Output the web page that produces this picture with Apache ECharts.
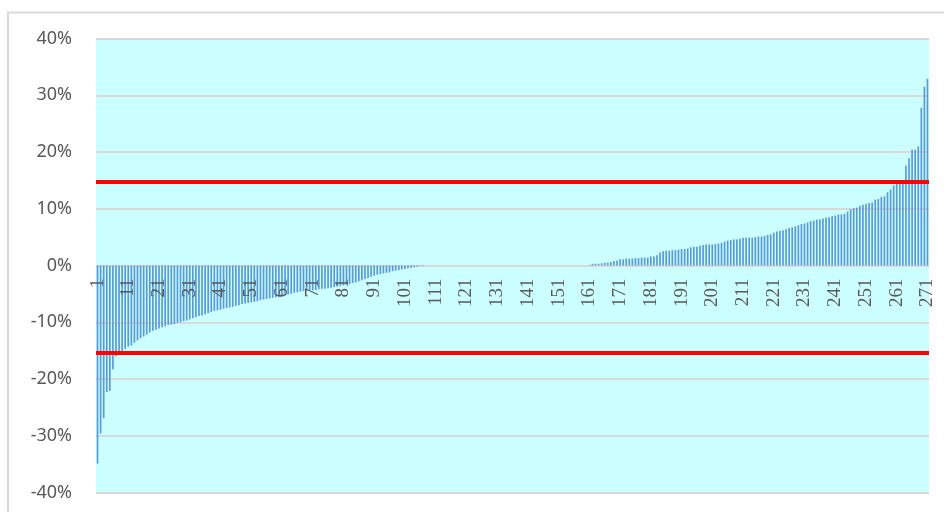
<!DOCTYPE html>
<html>
<head>
<meta charset="utf-8">
<script src="https://cdn.jsdelivr.net/npm/echarts@6/dist/echarts.min.js"></script>
<style>
html,body{margin:0;padding:0;background:#fff;}
#chart{width:944px;height:512px;}
</style>
</head>
<body>
<div id="chart"></div>
<script>
// Sorted percentage changes (271 items)
const changePct = [
  -34.9,-29.6,-26.9,-22.3,-22.1,-18.3,-16.0,-15.7,-15.4,-14.7,
  -14.3,-14.1,-13.6,-13.2,-12.8,-12.5,-12.2,-11.8,-11.5,-11.3,
  -11.1,-10.9,-10.7,-10.5,-10.4,-10.3,-10.1,-10.0,-9.8,-9.7,
  -9.5,-9.3,-9.1,-8.9,-8.8,-8.6,-8.4,-8.2,-8.0,-7.9,
  -7.8,-7.6,-7.5,-7.4,-7.3,-7.1,-7.0,-6.8,-6.7,-6.6,
  -6.5,-6.4,-6.3,-6.1,-6.0,-5.9,-5.8,-5.7,-5.6,-5.5,
  -5.4,-5.2,-5.1,-5.0,-4.8,-4.7,-4.6,-4.5,-4.5,-4.4,
  -4.4,-4.3,-4.2,-4.1,-4.1,-4.0,-3.9,-3.8,-3.7,-3.6,
  -3.5,-3.4,-3.3,-3.1,-3.0,-2.8,-2.6,-2.4,-2.2,-2.0,
  -1.8,-1.6,-1.5,-1.4,-1.3,-1.2,-1.0,-0.9,-0.8,-0.7,
  -0.6,-0.5,-0.4,-0.3,-0.2,-0.1,-0.1,0,0,0,
  0,0,0,0,0,0,0,0,0,0,
  0,0,0,0,0,0,0,0,0,0,
  0,0,0,0,0,0,0,0,0,0,
  0,0,0,0,0,0,0,0,0,0,
  0,0,0,0,0,0,0,0,0,0,
  0.1,0.3,0.3,0.3,0.4,0.5,0.5,0.6,0.8,0.9,
  1.1,1.1,1.2,1.2,1.2,1.3,1.3,1.4,1.4,1.4,
  1.6,1.6,1.8,2.3,2.5,2.6,2.6,2.7,2.7,2.8,
  2.9,2.9,3.0,3.2,3.3,3.3,3.5,3.6,3.7,3.7,
  3.7,3.8,3.9,4.0,4.2,4.4,4.5,4.6,4.6,4.7,
  4.9,4.9,4.9,4.9,5.0,5.1,5.1,5.2,5.4,5.5,
  5.8,6.0,6.1,6.2,6.4,6.6,6.7,6.9,7.1,7.3,
  7.4,7.6,7.8,7.9,8.1,8.1,8.3,8.4,8.5,8.7,
  8.8,9.0,9.0,9.1,9.5,9.9,10.1,10.2,10.5,10.7,
  10.9,11.0,11.1,11.6,11.7,12.1,12.2,12.9,13.4,14.1,
  14.5,14.5,14.6,17.6,18.9,20.4,20.4,21.0,27.8,31.5,
  32.9
];
// Category labels 1..271
const categories = changePct.map((_, i) => String(i + 1));
// Y axis range / ticks (percent)
const yTicks = { min: -40, max: 40, step: 10 };
// Threshold lines (percent)
const upperLimit = 14.7;
const lowerLimit = -15.3;

const gridTop = 38.5, gridBottom = 19.5, chartH = 512;
const plotH = chartH - gridTop - gridBottom;
// distance from bottom of plot to the zero line (axis crossing)
const zeroOffset = plotH * (0 - yTicks.min) / (yTicks.max - yTicks.min);

const chart = echarts.init(document.getElementById('chart'), null, {renderer: 'canvas'});
chart.setOption({
  animation: false,
  backgroundColor: '#ffffff',
  graphic: [{
    type: 'rect',
    shape: {x: 8, y: 12.5, width: 1000, height: 600},
    style: {fill: 'none', stroke: '#D9D9D9', lineWidth: 2},
    silent: true, z: 0
  }],
  grid: {left: 96, right: 15, top: gridTop, bottom: gridBottom, show: true,
         containLabel: false, outerBoundsMode: 'none',
         backgroundColor: '#CCFFFF', borderWidth: 0},
  xAxis: {
    type: 'category',
    data: categories,
    boundaryGap: true,
    position: 'bottom',
    offset: -zeroOffset,
    z: 5,
    axisLine: {show: false, onZero: false},
    axisTick: {show: false},
    axisLabel: {
      interval: 9, rotate: 90, margin: 13,
      color: '#595959', fontFamily: 'Liberation Serif', fontSize: 19
    },
    splitLine: {show: false}
  },
  yAxis: {
    type: 'value',
    min: yTicks.min, max: yTicks.max, interval: yTicks.step,
    axisLine: {show: false},
    axisTick: {show: false},
    axisLabel: {
      formatter: '{value}%', color: '#595959', fontFamily: 'Noto Sans',
      fontSize: 18, margin: 24
    },
    splitLine: {lineStyle: {color: '#D9D9D9', width: 2}}
  },
  series: [{
    type: 'bar',
    data: changePct,
    barWidth: '55%',
    itemStyle: {color: '#5B9BD5'},
    z: 2,
    markLine: {
      silent: true,
      symbol: ['none', 'none'],
      label: {show: false},
      lineStyle: {color: '#FF0000', width: 4, type: 'solid'},
      data: [{yAxis: upperLimit}, {yAxis: lowerLimit}],
      z: 4
    }
  }]
});
</script>
</body>
</html>
